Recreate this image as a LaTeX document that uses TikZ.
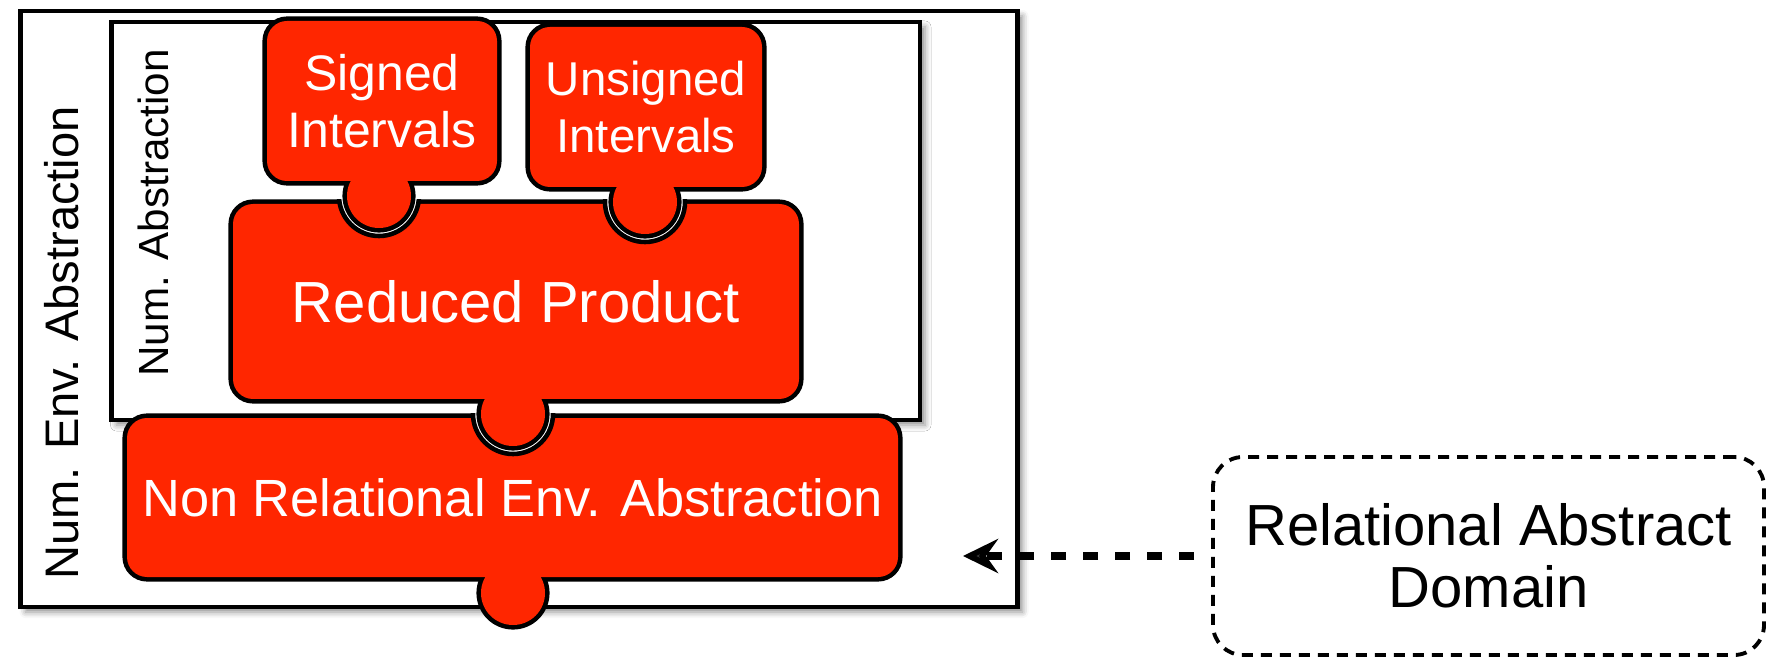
\documentclass[tikz,border=0pt]{standalone}
\usepackage{fontspec}
\setmainfont{Liberation Sans}
\definecolor{piecered}{HTML}{FF2600}
\usetikzlibrary{arrows.meta, positioning, calc, shadows.blur}
\tikzset{
  frame/.style={draw=black, line width=1.3pt, fill=white,
                blur shadow={shadow xshift=.5mm, shadow yshift=-.5mm, shadow blur radius=.6mm, shadow opacity=45}},
  pieceline/.style={draw=black, line width=2.6pt, rounded corners=2mm, inner sep=0pt},
  piecefill/.style={fill=piecered, rounded corners=2mm, inner sep=0pt, text=white, align=center},
  knobline/.style={circle, draw=black, line width=2.6pt, minimum size=6.4mm, inner sep=0pt},
  knobfill/.style={circle, fill=piecered, minimum size=6.4mm, inner sep=0pt},
  notch/.style={circle, draw=black, fill=white, line width=1.3pt, minimum size=8mm, inner sep=0pt},
  relbox/.style={draw=black, line width=1.1pt, dash pattern=on 1.1mm off .8mm, rounded corners=3mm,
                 align=center, inner sep=0pt},
  uses/.style={-{Stealth[length=3.5mm, width=3.4mm, inset=1.2mm]}, line width=2.2pt,
               dash pattern=on 1.5mm off 1.7mm},
}
% puzzle piece: name, centre, width, height, font size, line skip, text (knob sits at (name-k))
\newcommand\puzzle[7]{%
  \node[pieceline, minimum width=#3, minimum height=#4] (#1) at #2 {};
  \node[knobline] at (#1-k) {};
  \node[piecefill, minimum width=#3, minimum height=#4, font=\fontsize{#5}{#6}\selectfont] (#1-t) at #2 {#7};
  \node[knobfill] at (#1-k) {};
}

\begin{document}
\begin{tikzpicture}[x=.1mm,y=-.1mm]
\useasboundingbox (0,0) rectangle (1780,658);
\draw[frame] (20.5,11) rectangle (1017.5,607);
\draw[frame] (111.5,22) rectangle (920,420);
\node[rotate=90, font=\fontsize{13.4}{16}\selectfont] (envlbl) at (62,343) {Num. Env. Abstraction};
\node[rotate=90, font=\fontsize{12}{14}\selectfont] (numlbl) at (153,213) {Num. Abstraction};
% knob centres
\coordinate (si-k) at (379,196);
\coordinate (us-k) at (645,202);
\coordinate (rp-k) at (513,414);
\coordinate (nr-k) at (513,593);
\puzzle{nr}{(512.5,497.5)}{77.1mm}{15.9mm}{14.9}{17}{Non Relational Env. Abstraction}
\begin{scope}
  \clip (nr.north west) rectangle (nr.south east);
  \node[notch] at (rp-k) {};
\end{scope}
\puzzle{rp}{(516,301.5)}{56.6mm}{19.5mm}{16.5}{19}{Reduced Product}
\begin{scope}
  \clip (rp.north west) rectangle (rp.south east);
  \node[notch] at (si-k) {};
  \node[notch] at (us-k) {};
\end{scope}
\puzzle{si}{(382,101)}{23mm}{16mm}{14.2}{16.2}{Signed\\Intervals}
\puzzle{us}{(646,107)}{23.2mm}{16mm}{13.5}{16.2}{Unsigned\\Intervals}
% relational domain
\node[relbox, minimum width=55.1mm, minimum height=19.8mm, font=\fontsize{16.5}{17.6}\selectfont] (rel) at (1488.5,556) {Relational Abstract\\Domain};
\coordinate (into) at (963,556);
\draw[uses, shorten <=1.7mm] (rel.west) -- (into);
\end{tikzpicture}
\end{document}
